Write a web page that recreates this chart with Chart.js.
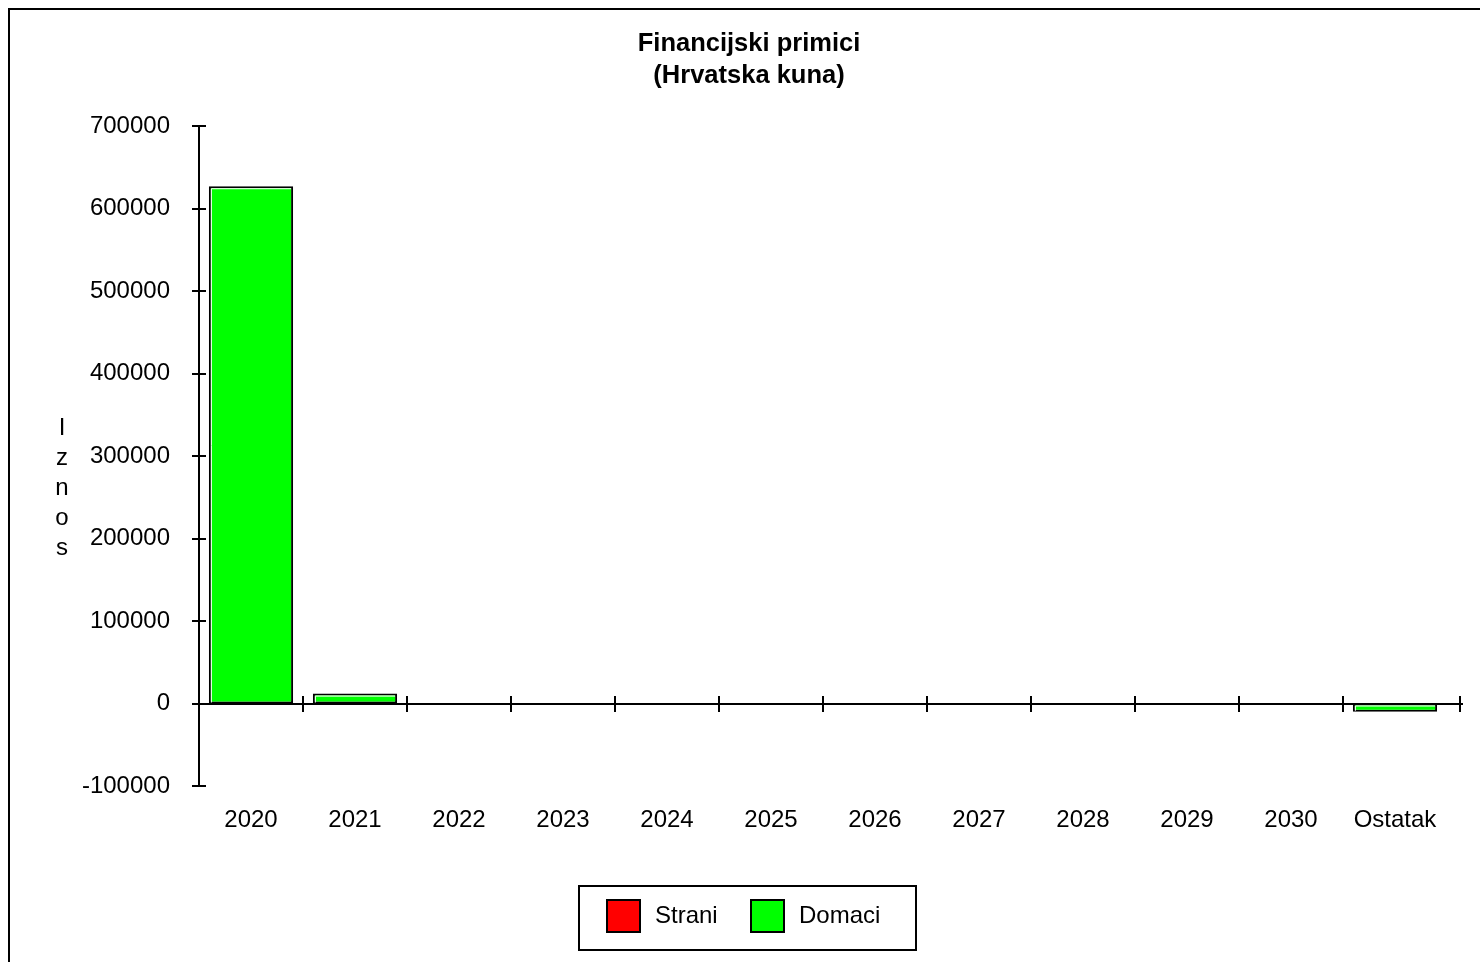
<!DOCTYPE html>
<html>
<head>
<meta charset="utf-8">
<title>Financijski primici</title>
<script src="https://cdn.jsdelivr.net/npm/chart.js@4.4.1/dist/chart.umd.min.js"></script>
<style>
    html, body { margin: 0; padding: 0; background: #fff; overflow: hidden; }
    canvas { display: block; }
</style>
</head>
<body>
<canvas id="barChart" width="1480" height="962"></canvas>
<script>
// chart data
const categories = ["2020", "2021", "2022", "2023", "2024", "2025", "2026", "2027", "2028", "2029", "2030", "Ostatak"];
const straniValues = [0, 0, 0, 0, 0, 0, 0, 0, 0, 0, 0, 0];
const domaciValues = [627000, 12000, 0, 0, 0, 0, 0, 0, 0, 0, 0, -10000];
const titleLines = ["Financijski primici", "(Hrvatska kuna)"];
const yAxisTitle = "Iznos";
const yMin = -100000;
const yMax = 700000;
const yStep = 100000;

const FONT = 'Arial, "Liberation Sans", sans-serif';

document.addEventListener("DOMContentLoaded", function () {
    Chart.defaults.font.family = FONT;
    Chart.defaults.color = "#000";

    let ctx = document.getElementById("barChart").getContext("2d");

    // frame, title, axis ticks, zero line, vertical axis title and the boxed legend
    const decorations = {
        id: "decorations",
        beforeDraw(chart) {
            const c = chart.ctx;
            c.save();
            c.fillStyle = "#fff";
            c.fillRect(0, 0, chart.width, chart.height);
            c.strokeStyle = "#000";
            c.lineWidth = 2;
            c.strokeRect(9, 9, chart.width + 20, chart.height + 20);

            // title
            c.fillStyle = "#000";
            c.font = "bold 25.5px " + FONT;
            c.textAlign = "center";
            c.textBaseline = "middle";
            titleLines.forEach(function (line, i) {
                c.fillText(line, 749, 44 + i * 32);
            });
            c.restore();
        },
        afterDatasetsDraw(chart) {
            const c = chart.ctx;
            const area = chart.chartArea;
            const x = chart.scales.x;
            const y = chart.scales.y;
            const y0 = Math.round(y.getPixelForValue(0));

            c.save();

            // white inner highlight on the bars
            c.strokeStyle = "#fff";
            c.lineWidth = 1;
            chart.getDatasetMeta(1).data.forEach(function (bar, i) {
                if (!domaciValues[i]) return;
                const left = bar.x - bar.width / 2 + 2.5;
                const top = Math.min(bar.y, bar.base) + 2.5;
                const bottom = Math.max(bar.y, bar.base) - 1;
                const right = bar.x + bar.width / 2 - 2;
                c.beginPath();
                c.moveTo(left, bottom);
                c.lineTo(left, top);
                c.lineTo(right, top);
                c.stroke();
            });

            c.strokeStyle = "#000";
            c.lineWidth = 2;

            // zero line
            c.beginPath();
            c.moveTo(area.left, y0);
            c.lineTo(area.right + 16, y0);
            c.stroke();

            // category boundary ticks on the zero line
            const half = (x.getPixelForValue(1) - x.getPixelForValue(0)) / 2;
            for (let i = 0; i < categories.length; i++) {
                let px = x.getPixelForValue(i) + half;
                if (i === categories.length - 1) px = area.right + 13;
                c.beginPath();
                c.moveTo(Math.round(px), y0 - 8);
                c.lineTo(Math.round(px), y0 + 8);
                c.stroke();
            }

            // y ticks crossing the axis
            y.ticks.forEach(function (t) {
                const py = Math.round(y.getPixelForValue(t.value));
                c.beginPath();
                c.moveTo(area.left - 7, py);
                c.lineTo(area.left + 7, py);
                c.stroke();
            });

            // vertical stacked axis title
            c.fillStyle = "#000";
            c.font = "24px " + FONT;
            c.textAlign = "center";
            c.textBaseline = "middle";
            yAxisTitle.split("").forEach(function (ch, i) {
                c.fillText(ch, 62, 428 + i * 30);
            });

            // legend
            c.lineWidth = 2;
            c.strokeRect(579, 886, 337, 64);
            c.textAlign = "left";
            chart.data.datasets.forEach(function (ds, i) {
                const bx = 607 + i * 144;
                c.fillStyle = ds.backgroundColor;
                c.fillRect(bx, 900, 33, 32);
                c.strokeStyle = "#000";
                c.lineWidth = 2;
                c.strokeRect(bx, 900, 33, 32);
                c.fillStyle = "#000";
                c.fillText(ds.label, bx + 48, 916);
            });

            c.restore();
        }
    };

    let barChart = new Chart(ctx, {
        type: "bar",
        data: {
            labels: categories,
            datasets: [{
                label: "Strani",
                data: straniValues,
                backgroundColor: "#ff0000",
                borderColor: "#000",
                borderWidth: 0
            }, {
                label: "Domaci",
                data: domaciValues,
                backgroundColor: "#00ff00",
                borderColor: "#000",
                borderWidth: 2,
                borderSkipped: false
            }]
        },
        options: {
            responsive: false,
            animation: false,
            devicePixelRatio: 1,
            layout: {
                padding: { left: 0, right: 33, top: 126, bottom: 116 }
            },
            datasets: {
                bar: { barPercentage: 0.81, categoryPercentage: 1 }
            },
            plugins: {
                legend: { display: false },
                tooltip: { enabled: false },
                title: { display: false }
            },
            scales: {
                x: {
                    stacked: true,
                    grid: { display: false, drawTicks: false },
                    border: { display: false },
                    ticks: {
                        color: "#000",
                        font: { size: 24 },
                        padding: 20,
                        maxRotation: 0,
                        autoSkip: false
                    },
                    afterFit: function (scale) { scale.height = 60; }
                },
                y: {
                    stacked: true,
                    min: yMin,
                    max: yMax,
                    grid: { display: false, drawTicks: false },
                    border: { display: true, color: "#000", width: 2 },
                    ticks: {
                        stepSize: yStep,
                        color: "#000",
                        font: { size: 24 },
                        padding: 29,
                        callback: function (value) { return String(value); }
                    },
                    afterFit: function (scale) { scale.width = 199; }
                }
            }
        },
        plugins: [decorations]
    });
});
</script>
</body>
</html>
